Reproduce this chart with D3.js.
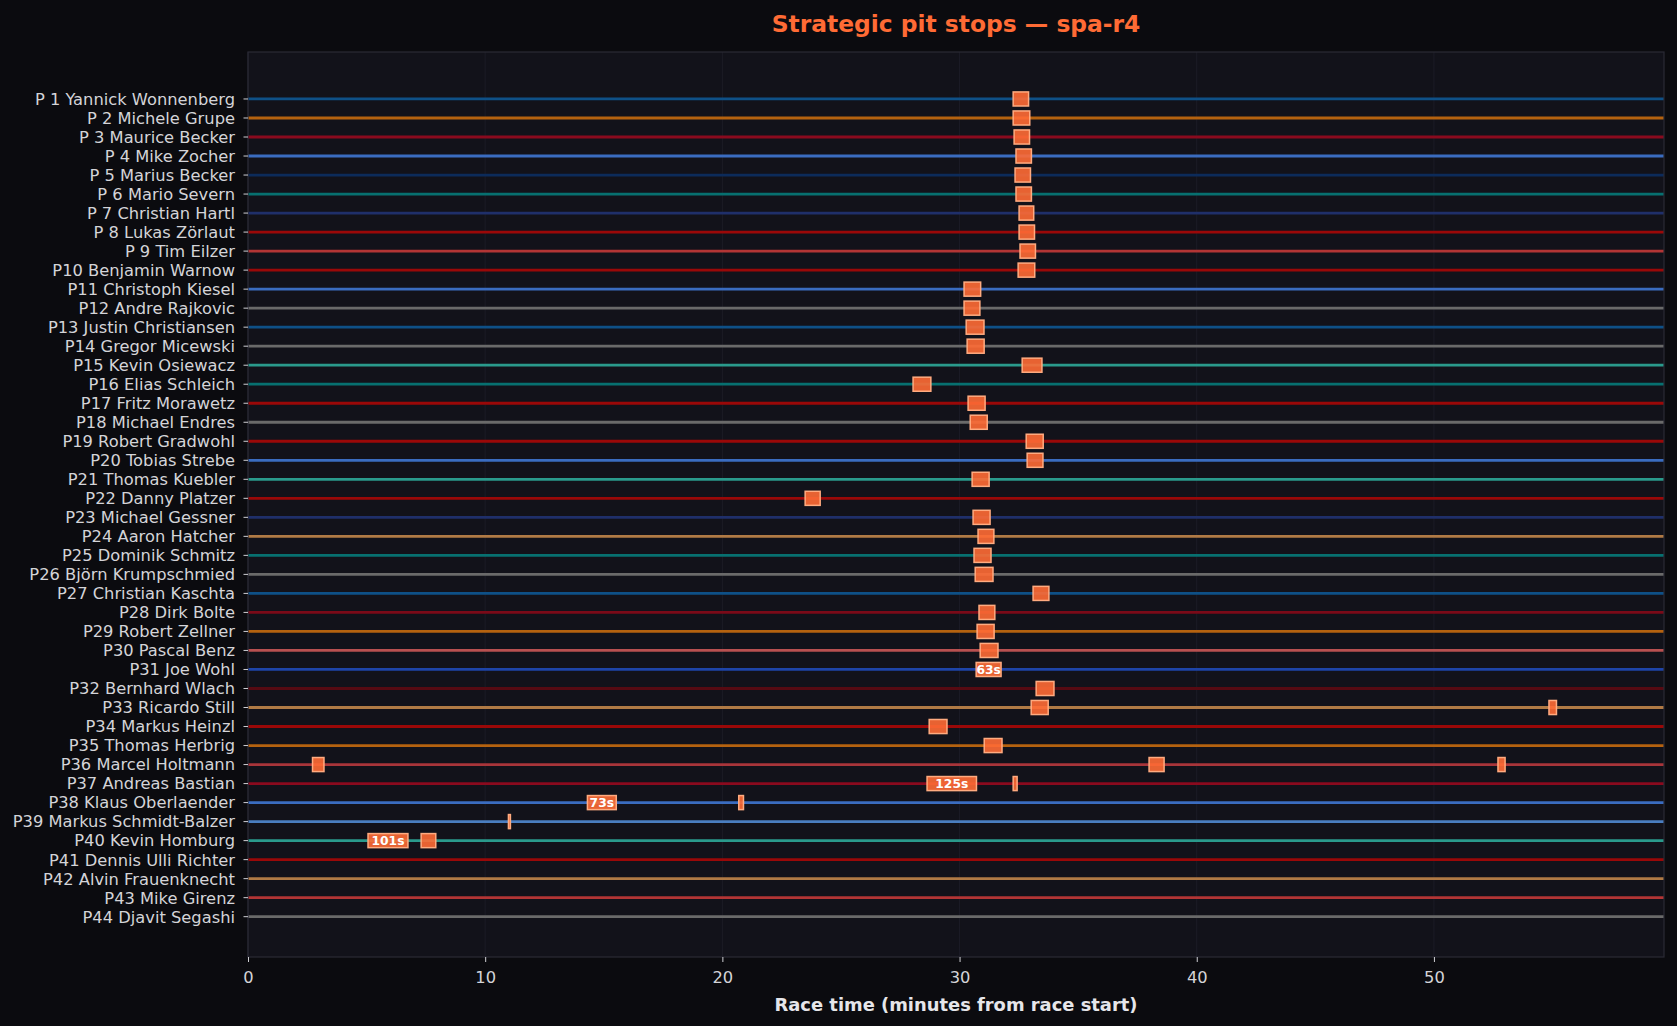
<!DOCTYPE html>
<html>
<head>
<meta charset="utf-8">
<script src="https://cdn.jsdelivr.net/npm/d3@7"></script>
<style>
  html, body { margin: 0; padding: 0; background: #0b0b0f; }
  svg { display: block; font-family: "DejaVu Sans", sans-serif; }
</style>
</head>
<body>
<div id="chart"></div>
<script>
// driver labels, top to bottom
const drivers = [
    'P 1 Yannick Wonnenberg', 'P 2 Michele Grupe', 'P 3 Maurice Becker', 'P 4 Mike Zocher',
    'P 5 Marius Becker', 'P 6 Mario Severn', 'P 7 Christian Hartl', 'P 8 Lukas Zörlaut',
    'P 9 Tim Eilzer', 'P10 Benjamin Warnow', 'P11 Christoph Kiesel', 'P12 Andre Rajkovic',
    'P13 Justin Christiansen', 'P14 Gregor Micewski', 'P15 Kevin Osiewacz', 'P16 Elias Schleich',
    'P17 Fritz Morawetz', 'P18 Michael Endres', 'P19 Robert Gradwohl', 'P20 Tobias Strebe',
    'P21 Thomas Kuebler', 'P22 Danny Platzer', 'P23 Michael Gessner', 'P24 Aaron Hatcher',
    'P25 Dominik Schmitz', 'P26 Björn Krumpschmied', 'P27 Christian Kaschta', 'P28 Dirk Bolte',
    'P29 Robert Zellner', 'P30 Pascal Benz', 'P31 Joe Wohl', 'P32 Bernhard Wlach',
    'P33 Ricardo Still', 'P34 Markus Heinzl', 'P35 Thomas Herbrig', 'P36 Marcel Holtmann',
    'P37 Andreas Bastian', 'P38 Klaus Oberlaender', 'P39 Markus Schmidt-Balzer', 'P40 Kevin Homburg',
    'P41 Dennis Ulli Richter', 'P42 Alvin Frauenknecht', 'P43 Mike Girenz', 'P44 Djavit Segashi'
];

// row line colour per driver
const lineColors = [
    '#0e5087', '#b5620f', '#8a0a1e', '#3a6cc0', '#0c2b5a', '#077070', '#1f2f6a', '#9a0808',
    '#b33535', '#9a0808', '#3a6cc0', '#6a6a6a', '#0e5087', '#6a6a6a', '#2a9a8c', '#077070',
    '#9a0808', '#6a6a6a', '#9a0808', '#3a6cc0', '#2a9a8c', '#9a0808', '#1f2f6a', '#b07a45',
    '#077070', '#6a6a6a', '#0e5087', '#7a0a18', '#b5620f', '#b85050', '#1e44a8', '#560a12',
    '#b07a45', '#9a0808', '#b5620f', '#a8353a', '#8a0a1e', '#3a6cc0', '#4a7ec0', '#2a9a8c',
    '#9a0808', '#b07a45', '#b33535', '#6a6a6a'
];

// pit stops: [row index, start (minutes from race start), duration (seconds)]
const pitStops = [
    [0, 32.26, 39], [1, 32.26, 42], [2, 32.30, 39], [3, 32.38, 39], [4, 32.34, 39],
    [5, 32.38, 39], [6, 32.51, 37], [7, 32.51, 39], [8, 32.55, 39], [9, 32.47, 42],
    [10, 30.19, 42], [11, 30.19, 40], [12, 30.28, 45], [13, 30.32, 43], [14, 32.64, 50],
    [15, 28.04, 45], [16, 30.36, 43], [17, 30.45, 43], [18, 32.81, 43], [19, 32.85, 40],
    [20, 30.53, 43], [21, 23.49, 38], [22, 30.57, 43], [23, 30.78, 40], [24, 30.61, 43],
    [25, 30.66, 45], [26, 33.10, 40], [27, 30.82, 40], [28, 30.74, 43], [29, 30.87, 45],
    [30, 30.70, 63], [31, 33.23, 45], [32, 33.02, 43], [32, 54.85, 19], [33, 28.72, 45],
    [34, 31.04, 45], [35, 2.72, 29], [35, 37.99, 38], [35, 52.70, 18], [36, 28.63, 125],
    [36, 32.26, 10], [37, 14.31, 73], [37, 20.69, 12], [38, 10.98, 5], [39, 5.06, 101],
    [39, 7.30, 37]
];

const xTicks = [0, 10, 20, 30, 40, 50];
const X_MAX = 59.7;
const LABEL_MIN = 60; // stops at least this long get a duration label

const W = 1677, H = 1026;
const margin = { left: 248, right: 1664, top: 52, bottom: 957 };

const svg = d3.select('#chart').append('svg')
    .attr('width', W)
    .attr('height', H);

svg.append('rect')
    .attr('width', W).attr('height', H)
    .attr('fill', '#0b0b0f');

const x = d3.scaleLinear().domain([0, X_MAX]).range([margin.left, margin.right]);
const y = d3.scaleLinear()
    .domain([-2.47, drivers.length - 1 + 2.12])
    .range([margin.top, margin.bottom]);
const rowH = y(1) - y(0);

// plot background
svg.append('rect')
    .attr('x', margin.left).attr('y', margin.top)
    .attr('width', margin.right - margin.left).attr('height', margin.bottom - margin.top)
    .attr('fill', '#12121a');

// vertical grid
svg.selectAll('line.grid')
    .data(xTicks)
    .enter()
    .append('line')
    .attr('class', 'grid')
    .attr('x1', (d) => x(d)).attr('x2', (d) => x(d))
    .attr('y1', margin.top).attr('y2', margin.bottom)
    .attr('stroke', '#1c1c26')
    .attr('stroke-width', 1);

// driver lines
svg.selectAll('line.row')
    .data(drivers)
    .enter()
    .append('line')
    .attr('class', 'row')
    .attr('x1', margin.left).attr('x2', margin.right)
    .attr('y1', (d, i) => y(i)).attr('y2', (d, i) => y(i))
    .attr('stroke', (d, i) => lineColors[i])
    .attr('stroke-width', 2.8);

// pit stop boxes
const boxH = rowH * 0.74;
svg.selectAll('rect.stop')
    .data(pitStops)
    .enter()
    .append('rect')
    .attr('class', 'stop')
    .attr('x', (d) => x(d[1]))
    .attr('y', (d) => y(d[0]) - boxH / 2)
    .attr('width', (d) => x(d[1] + d[2] / 60) - x(d[1]))
    .attr('height', boxH)
    .attr('fill', '#ff6b35')
    .attr('fill-opacity', 0.9)
    .attr('stroke', '#ffab80')
    .attr('stroke-width', 1.5);

// duration labels for long stops
svg.selectAll('text.dur')
    .data(pitStops.filter((d) => d[2] >= LABEL_MIN))
    .enter()
    .append('text')
    .attr('class', 'dur')
    .attr('x', (d) => x(d[1] + d[2] / 120))
    .attr('y', (d) => y(d[0]))
    .attr('dy', '0.36em')
    .attr('text-anchor', 'middle')
    .style('font-size', '12.3px')
    .style('font-weight', 'bold')
    .style('fill', '#ffffff')
    .text((d) => `${d[2]}s`);

// spines
svg.append('rect')
    .attr('x', margin.left).attr('y', margin.top)
    .attr('width', margin.right - margin.left).attr('height', margin.bottom - margin.top)
    .attr('fill', 'none')
    .attr('stroke', '#2a2a35')
    .attr('stroke-width', 1.2);

// y axis
const yAxis = svg.append('g');
yAxis.selectAll('line')
    .data(drivers)
    .enter()
    .append('line')
    .attr('x1', margin.left - 4.5).attr('x2', margin.left)
    .attr('y1', (d, i) => y(i)).attr('y2', (d, i) => y(i))
    .attr('stroke', '#cfcfd4')
    .attr('stroke-width', 1);
yAxis.selectAll('text')
    .data(drivers)
    .enter()
    .append('text')
    .attr('x', margin.left - 13)
    .attr('y', (d, i) => y(i))
    .attr('dy', '0.36em')
    .attr('text-anchor', 'end')
    .style('font-size', '16.3px')
    .style('fill', '#d4d4d8')
    .text((d) => d);

// x axis
const xAxis = d3.axisBottom(x)
    .tickValues(xTicks)
    .tickSize(5)
    .tickPadding(9)
    .tickFormat(d3.format('d'));
const gx = svg.append('g')
    .attr('transform', `translate(0, ${margin.bottom})`)
    .call(xAxis);
gx.select('.domain').remove();
gx.selectAll('.tick line').attr('stroke', '#cfcfd4');
gx.selectAll('.tick text')
    .style('font-size', '16.3px')
    .style('font-family', '"DejaVu Sans", sans-serif')
    .style('fill', '#d4d4d8');

// x axis label
svg.append('text')
    .attr('x', (margin.left + margin.right) / 2)
    .attr('y', 1011)
    .attr('text-anchor', 'middle')
    .style('font-size', '17.9px')
    .style('font-weight', 'bold')
    .style('fill', '#e6e6ea')
    .text('Race time (minutes from race start)');

// title
svg.append('text')
    .attr('x', (margin.left + margin.right) / 2)
    .attr('y', 31.5)
    .attr('text-anchor', 'middle')
    .style('font-size', '23.4px')
    .style('font-weight', 'bold')
    .style('fill', '#ff6b35')
    .text('Strategic pit stops — spa-r4');
</script>
</body>
</html>
